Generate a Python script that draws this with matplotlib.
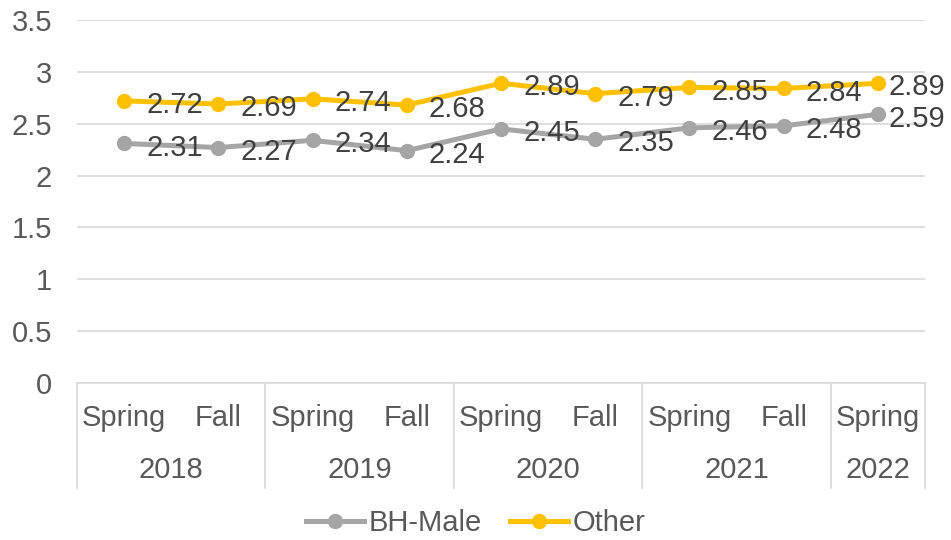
import matplotlib
matplotlib.use("Agg")
import matplotlib.pyplot as plt
from matplotlib.lines import Line2D
from matplotlib.transforms import blended_transform_factory

plt.rcParams['font.family'] = ['Liberation Sans', 'DejaVu Sans']

seasons = ["Spring", "Fall", "Spring", "Fall", "Spring", "Fall", "Spring", "Fall", "Spring"]
years = ["2018", "2019", "2020", "2021", "2022"]
year_spans = [2, 2, 2, 2, 1]
bh_male = [2.31, 2.27, 2.34, 2.24, 2.45, 2.35, 2.46, 2.48, 2.59]
other = [2.72, 2.69, 2.74, 2.68, 2.89, 2.79, 2.85, 2.84, 2.89]
yticks = [0, 0.5, 1, 1.5, 2, 2.5, 3, 3.5]
ytick_labels = ["0", "0.5", "1", "1.5", "2", "2.5", "3", "3.5"]

W, H = 951, 540
fig = plt.figure(figsize=(W / 100, H / 100), dpi=100)
L, R, T, B = 77, 925, 20, 383
ax = fig.add_axes([L / W, (H - B) / H, (R - L) / W, (B - T) / H])

grey = "#A5A5A5"
gold = "#FFC000"
grid_c = "#D9D9D9"
axis_txt = "#595959"
lab_txt = "#404040"
fs = 21

x = list(range(len(seasons)))
ax.plot(x, bh_male, color=grey, lw=3.6, marker='o', ms=10, zorder=3, solid_capstyle='round')
ax.plot(x, other, color=gold, lw=3.6, marker='o', ms=10, zorder=3, solid_capstyle='round')

n = len(x)
for series in (bh_male, other):
    for xi, v in zip(x, series):
        dx = 16 if xi < n - 1 else 8
        ax.annotate(f"{v:.2f}", (xi, v), xytext=(dx, -3), textcoords='offset points',
                    ha='left', va='center', fontsize=fs, color=lab_txt, zorder=4,
                    annotation_clip=False)

ax.set_xlim(-0.5, n - 0.5)
ax.set_ylim(0, 3.5)
ax.set_yticks(yticks)
ax.set_yticklabels(ytick_labels)
ax.tick_params(axis='y', length=0, pad=18, labelsize=fs, labelcolor=axis_txt)
ax.set_xticks([])
ax.grid(axis='y', color=grid_c, lw=1.2)
ax.set_axisbelow(True)
for s in ['top', 'right', 'left']:
    ax.spines[s].set_visible(False)
ax.spines['bottom'].set_color(grid_c)
ax.spines['bottom'].set_linewidth(1.2)

tr = blended_transform_factory(ax.transData, ax.transAxes)
h_ax = B - T
y_season = -(418 - B) / h_ax
y_year = -(470 - B) / h_ax
y_bottom = -(488 - B) / h_ax

for xi, s in zip(x, seasons):
    ax.text(xi, y_season, s, transform=tr, ha='center', va='center', fontsize=fs, color=axis_txt)

start = 0
bounds = [-0.5]
for yr, span in zip(years, year_spans):
    center = start + (span - 1) / 2
    ax.text(center, y_year, yr, transform=tr, ha='center', va='center', fontsize=fs, color=axis_txt)
    start += span
    bounds.append(start - 0.5)
for bx in bounds:
    ax.plot([bx, bx], [0, y_bottom], transform=tr, color=grid_c, lw=1.2, clip_on=False)

handles = [Line2D([], [], color=grey, lw=3.6, marker='o', ms=10),
           Line2D([], [], color=gold, lw=3.6, marker='o', ms=10)]
fig.legend(handles, ["BH-Male", "Other"], loc='center', bbox_to_anchor=(0.5, (H - 523) / H),
           ncol=2, frameon=False, fontsize=fs, labelcolor=axis_txt,
           handlelength=2.0, handletextpad=0.15, columnspacing=0.95)

fig.savefig("out.png", dpi=100)
